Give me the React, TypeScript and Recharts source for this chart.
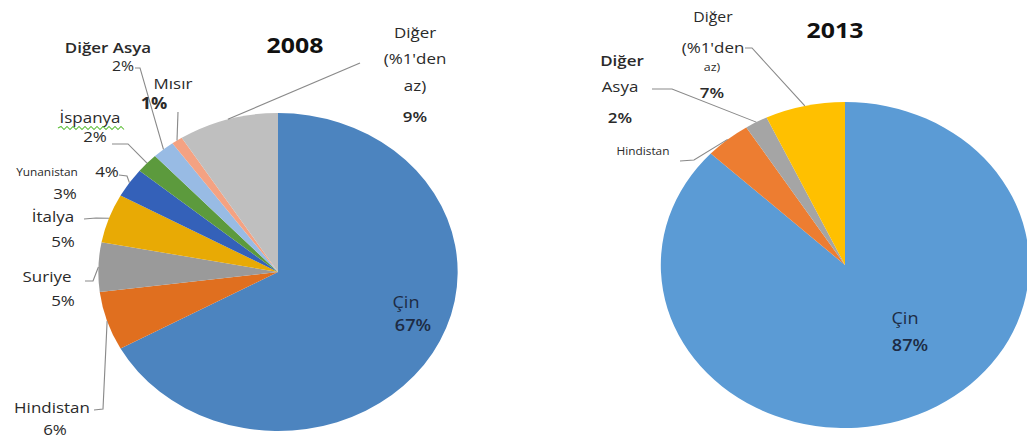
import React from "react";
import { PieChart, Pie, Cell } from "recharts";

// reference image is horizontally stretched, so the whole chart is drawn
// narrower and scaled back on X
const SX = 1.13;
const W = 1027;
const H = 440;

const names2008 = ["Çin", "Hindistan", "Suriye", "İtalya", "Yunanistan", "İspanya", "Diğer Asya", "Mısır", "Diğer (%1'den az)"];
const values2008 = [67, 6, 5, 5, 3, 2, 2, 1, 9];
const colors2008 = ["#4C84BF", "#E06F1F", "#9A9A9A", "#E8AA05", "#3461B9", "#5C9A3D", "#98BBE4", "#F4A282", "#BFBFBF"];

const names2013 = ["Çin", "Hindistan", "Diğer Asya", "Diğer (%1'den az)"];
const values2013 = [87, 4, 2, 7];
const colors2013 = ["#5B9BD5", "#ED7D31", "#A5A5A5", "#FFC000"];

const data2008 = names2008.map((name, i) => ({ name, value: values2008[i] }));
const data2013 = names2013.map((name, i) => ({ name, value: values2013[i] }));

// label layout, in reference pixel coords. "%" line = the slice value
type Line = [string, number, number, number, number?];
type Spot = { lines: Line[]; path: [number, number][] };

const spots2008: Spot[] = [
  { lines: [["Çin", 406, 308, 16], ["%", 413, 331, 16, 600]], path: [] },
  { lines: [["Hindistan", 52, 413, 15], ["%", 55, 435, 15]], path: [[94, 410], [103, 409]] },
  { lines: [["Suriye", 47, 282, 15], ["%", 63, 306, 15]], path: [[85, 281], [93, 281]] },
  { lines: [["İtalya", 53, 222, 15], ["%", 63, 247, 15]], path: [[84, 219], [96, 218]] },
  { lines: [["Yunanistan", 47, 176, 10.5], ["4%", 107, 177, 15], ["%", 65, 199, 15]], path: [[119, 175], [127, 176]] },
  { lines: [["İspanya", 90, 123, 15], ["%", 95, 142, 15]], path: [[112, 144], [128, 144]] },
  { lines: [["Diğer Asya", 108, 53, 15, 600], ["%", 123, 71, 14]], path: [[135, 68], [140, 68]] },
  { lines: [["Mısır", 173, 89, 15], ["%", 154, 109, 16, 700]], path: [[178, 112]] },
  { lines: [["Diğer", 415, 38, 15], ["(%1'den", 415, 64, 15], ["az)", 415, 91, 15], ["%", 415, 122, 15, 600]], path: [[360, 63]] },
];

const spots2013: Spot[] = [
  { lines: [["Çin", 905, 324, 16], ["%", 910, 351, 16, 600]], path: [] },
  { lines: [["Hindistan", 643, 155, 10.5]], path: [[680, 161], [694, 160]] },
  { lines: [["Diğer", 622, 66, 15, 600], ["Asya", 620, 92, 15], ["%", 620, 123, 15, 600]], path: [[652, 89], [672, 89]] },
  { lines: [["Diğer", 713, 22, 14], ["(%1'den", 713, 53, 15], ["az)", 712, 71, 11], ["%", 712, 98, 15, 600]], path: [[745, 48], [752, 48]] },
];

const RAD = Math.PI / 180;

function makeLabel(spots: Spot[], values: number[]) {
  return (props: any) => {
    const { cx, cy, midAngle, outerRadius, index } = props;
    const spot = spots[index];
    if (!spot) return null;
    const px = cx + outerRadius * Math.cos(-midAngle * RAD);
    const py = cy + outerRadius * Math.sin(-midAngle * RAD);
    const pts = spot.path.map(([x, y]) => [x / SX, y]);
    if (pts.length) pts.push([px, py]);
    const d = pts.map((p, i) => (i === 0 ? "M" : "L") + p[0] + "," + p[1]).join(" ");
    return (
      <g>
        {pts.length > 0 && <path d={d} stroke="#8a8a8a" strokeWidth={1} fill="none" />}
        {spot.lines.map(([t, x, y, size, weight], i) => (
          <text
            key={i}
            x={x / SX}
            y={y}
            textAnchor="middle"
            fontSize={size}
            fontWeight={weight ?? 400}
            fill={index === 0 ? "#1d2b44" : "#2a2a2a"}
          >
            {t === "%" ? values[index] + "%" : t}
          </text>
        ))}
      </g>
    );
  };
}

function squiggle(x0: number, x1: number, y: number) {
  let d = `M${x0 / SX},${y}`;
  let up = true;
  for (let x = x0 + 3; x <= x1; x += 3) {
    d += ` L${x / SX},${y + (up ? -1.5 : 1.5)}`;
    up = !up;
  }
  return d;
}

const titleStyle: React.CSSProperties = {
  position: "absolute",
  fontWeight: 700,
  fontSize: 22,
  color: "#111",
  transform: "translateX(-50%)",
  lineHeight: "24px",
};

export default function App() {
  return (
    <div style={{ position: "absolute", left: 0, top: 0, width: W, height: H, background: "#fff", overflow: "hidden" }}>
      <div
        style={{
          position: "absolute",
          left: 0,
          top: 0,
          width: W / SX,
          height: H,
          transform: `scaleX(${SX})`,
          transformOrigin: "0 0",
          fontFamily: "'Open Sans', sans-serif",
        }}
      >
        <PieChart
          width={W / SX}
          height={H}
          margin={{ top: 0, right: 0, bottom: 0, left: 0 }}
          style={{ fontFamily: "'Open Sans', sans-serif" }}
        >
          <Pie
            data={data2008}
            dataKey="value"
            nameKey="name"
            cx={278 / SX}
            cy={272}
            outerRadius={159}
            startAngle={90}
            endAngle={-270}
            stroke="none"
            labelLine={false}
            label={makeLabel(spots2008, values2008)}
            isAnimationActive={false}
          >
            {data2008.map((d, i) => (
              <Cell key={d.name} fill={colors2008[i]} />
            ))}
          </Pie>
          <Pie
            data={data2013}
            dataKey="value"
            nameKey="name"
            cx={845 / SX}
            cy={265}
            outerRadius={163}
            startAngle={90}
            endAngle={-270}
            stroke="none"
            labelLine={false}
            label={makeLabel(spots2013, values2013)}
            isAnimationActive={false}
          >
            {data2013.map((d, i) => (
              <Cell key={d.name} fill={colors2013[i]} />
            ))}
          </Pie>
        </PieChart>
        <svg style={{ position: "absolute", left: 0, top: 0, pointerEvents: "none" }} width={W / SX} height={H}>
          <path d={squiggle(58, 124, 128)} stroke="#5fbf3a" strokeWidth={1} fill="none" />
        </svg>
        <div style={{ ...titleStyle, left: 295 / SX, top: 32 }}>2008</div>
        <div style={{ ...titleStyle, left: 835 / SX, top: 17 }}>2013</div>
      </div>
    </div>
  );
}
